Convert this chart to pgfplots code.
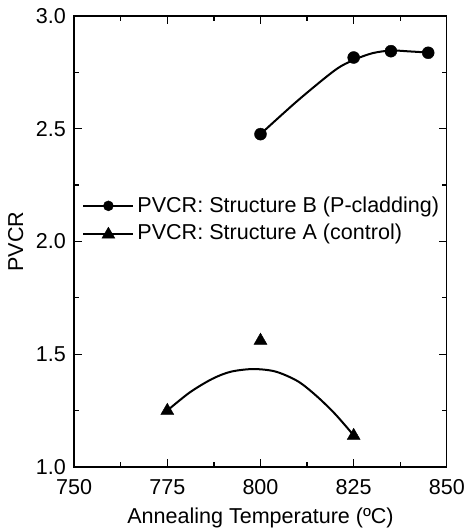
\documentclass[border=0pt]{standalone}
\usepackage{fontspec}
\setmainfont{Liberation Sans}
\usepackage{pgfplots}
\pgfplotsset{compat=1.18}
\begin{document}
\fontsize{21.5pt}{26pt}\selectfont
\begin{tikzpicture}
\useasboundingbox (-74pt,-62pt) rectangle (391pt,466pt);
\begin{axis}[
  at={(0pt,0pt)}, anchor=south west,
  scale only axis,
  width=372pt, height=450pt,
  xmin=750, xmax=850, ymin=1.0, ymax=3.0,
  xtick={750,775,800,825,850},
  ytick={1.0,1.5,2.0,2.5,3.0},
  minor x tick num=1, minor y tick num=1,
  tick align=inside,
  major tick length=8pt, minor tick length=5pt,
  tick style={line width=1.2pt, black},
  axis line style={line width=1.3pt},
  xticklabel style={/pgf/number format/fixed, /pgf/number format/precision=0, yshift=-5pt},
  yticklabel style={/pgf/number format/fixed, /pgf/number format/fixed zerofill, /pgf/number format/precision=1, xshift=-1pt},
  /pgf/number format/assume math mode=true,
  xlabel={Annealing Temperature (ºC)},
  ylabel={PVCR},
  label style={font=\fontsize{21.5pt}{26pt}\selectfont},
  tick label style={font=\fontsize{21.5pt}{26pt}\selectfont},
  xlabel style={yshift=1pt},
  ylabel style={yshift=-2pt},
  legend style={at={(0.0215,0.607)}, anchor=north west, draw=none, fill=none,
    font=\fontsize{21.5pt}{26pt}\selectfont, row sep=3pt, inner sep=0pt,
    nodes={inner sep=3pt}},
  legend cell align=left,
]
% Structure B fitted curve
\addplot[black, line width=2pt, smooth, forget plot] coordinates {
 (800,2.476) (810,2.625) (820,2.76) (825,2.805) (830,2.835) (835,2.847) (840,2.843) (845,2.838)};
% Structure A fitted curve
\addplot[black, line width=2pt, smooth, forget plot] coordinates {
 (775,1.25) (781,1.33) (787,1.39) (792,1.422) (798,1.434) (804,1.423) (810,1.38) (815,1.315) (820,1.235) (825,1.14)};
% markers
\addplot[only marks, mark=*, mark size=6pt, black, forget plot] coordinates {
 (800,2.476) (825,2.816) (835,2.844) (845,2.837)};
\addplot[only marks, mark=triangle*, mark size=7.5pt, black, forget plot] coordinates {
 (775,1.249) (800,1.56) (825,1.138)};
\addlegendimage{legend image code/.code={
  \draw[black, line width=2pt] (0pt,0pt) -- (50pt,0pt);
  \fill[black] (25pt,0pt) circle (5pt);}}
\addlegendentry{PVCR: Structure B (P-cladding)}
\addlegendimage{legend image code/.code={
  \draw[black, line width=2pt] (0pt,0pt) -- (50pt,0pt);
  \fill[black] (25pt,6.5pt) -- (18.5pt,-4.5pt) -- (31.5pt,-4.5pt) -- cycle;}}
\addlegendentry{PVCR: Structure A (control)}
\end{axis}
\end{tikzpicture}
\end{document}
